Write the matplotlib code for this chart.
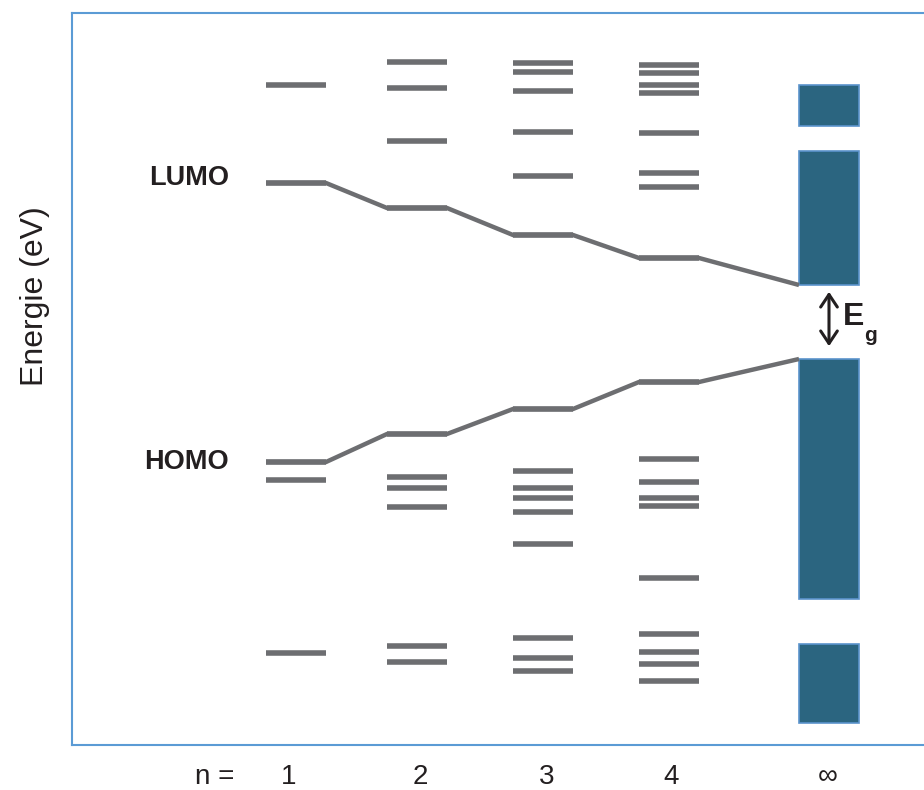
import matplotlib
matplotlib.use("Agg")
import matplotlib.pyplot as plt
from matplotlib.patches import Rectangle, FancyArrowPatch

plt.rcParams['font.family'] = ['Liberation Sans', 'DejaVu Sans']

# ---------------- data (energy in arbitrary units) ----------------
columns = ["1", "2", "3", "4", "\u221e"]
levels_n1 = [6.60, 5.62, 2.83, 2.65, 0.92]
levels_n2 = [6.83, 6.57, 6.04, 5.37, 3.11, 2.68, 2.57, 2.38, 0.99, 0.83]
levels_n3 = [6.82, 6.73, 6.54, 6.13, 5.69, 5.10, 3.36, 2.74, 2.57, 2.47, 2.33,
             2.01, 1.07, 0.87, 0.74]
levels_n4 = [6.80, 6.72, 6.60, 6.52, 6.12, 5.72, 5.58, 4.87, 3.63, 2.86, 2.63,
             2.47, 2.39, 1.67, 1.11, 0.93, 0.81, 0.64]
lumo = [5.62, 5.37, 5.10, 4.87, 4.60]
homo = [2.83, 3.11, 3.36, 3.63, 3.86]
band_bottom = [6.19, 4.60, 1.46, 0.22]
band_top = [6.60, 5.94, 3.86, 1.01]
tick_labels = ["n =", "1", "2", "3", "4", "\u221e"]

# ---------------- layout ----------------
W, H = 924, 790
col_x = [296, 417, 543, 669, 829]       # column centres (px-based x units)
half_w = 30
tick_x = [215, 289, 420, 547, 671, 828]
level_color = "#6D6E71"
band_color = "#2B6580"
band_edge = "#5B93CC"
text_color = "#231F20"

fig = plt.figure(figsize=(W / 100, H / 100), dpi=100)
ax = fig.add_axes([72 / W, 1 - 745 / H, (935 - 72) / W, (745 - 13) / H])
ax.set_xlim(72, 935)
ax.set_ylim(0, 7.32)

for sp in ax.spines.values():
    sp.set_color("#5B9BD5")
    sp.set_linewidth(1.5)

# discrete levels
for cx, lv in zip(col_x[:4], [levels_n1, levels_n2, levels_n3, levels_n4]):
    ax.hlines(lv, cx - half_w, cx + half_w, colors=level_color,
              linewidth=4.0, capstyle="butt", zorder=2)

# HOMO / LUMO connecting paths
def path(vals):
    xs, ys = [], []
    for i, (cx, v) in enumerate(zip(col_x, vals)):
        if i < len(vals) - 1:
            xs += [cx - half_w, cx + half_w]
            ys += [v, v]
        else:
            xs += [cx - half_w]
            ys += [v]
    return xs, ys

for vals in (lumo, homo):
    xs, ys = path(vals)
    ax.plot(xs, ys, color=level_color, linewidth=3.2,
            solid_joinstyle="miter", solid_capstyle="butt", zorder=3)

# continuous bands (n = infinity)
for b, t in zip(band_bottom, band_top):
    ax.add_patch(Rectangle((col_x[4] - half_w, b), 2 * half_w, t - b,
                           facecolor=band_color, edgecolor=band_edge,
                           linewidth=1.2, zorder=2))

# band gap arrow
ax.add_patch(FancyArrowPatch((col_x[4], homo[-1] + 0.10),
                             (col_x[4], lumo[-1] - 0.04),
                             arrowstyle="<->,head_length=0.45,head_width=0.3",
                             color=text_color, linewidth=2.2,
                             mutation_scale=20, zorder=4))
mid = (homo[-1] + lumo[-1]) / 2
ax.text(col_x[4] + 14, mid + 0.05, "E", fontsize=23, fontweight="bold",
        ha="left", va="center", color=text_color)
ax.text(col_x[4] + 35, mid - 0.13, "g", fontsize=15, fontweight="bold",
        ha="left", va="center", color=text_color)

ax.text(189, lumo[0] + 0.05, "LUMO", fontsize=19.5, fontweight="bold",
        ha="center", va="center", color=text_color)
ax.text(186, homo[0] + 0.0, "HOMO", fontsize=19.5, fontweight="bold",
        ha="center", va="center", color=text_color)

ax.set_xticks(tick_x, tick_labels)
ax.set_yticks([])
ax.tick_params(axis="x", length=0, pad=14, labelsize=20, labelcolor=text_color)

fig.text(35 / W, 1 - 296 / H, "Energie (eV)", rotation=90, fontsize=23,
         ha="center", va="center", color=text_color)

fig.savefig("out.png", dpi=100)
